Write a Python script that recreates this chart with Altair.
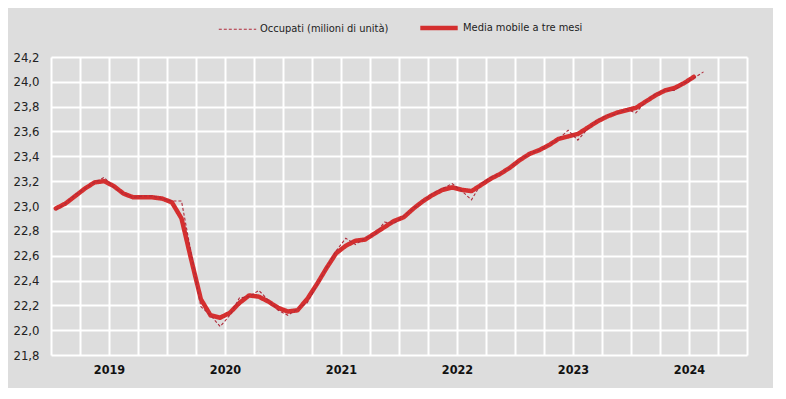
import altair as alt
import pandas as pd

# Monthly periods (Jan 2019 – Aug 2024)
start_year = 2019
years = [2019, 2020, 2021, 2022, 2023, 2024]
y_ticks = [21.8, 22.0, 22.2, 22.4, 22.6, 22.8, 23.0, 23.2, 23.4, 23.6, 23.8, 24.0, 24.2]

serie_raw = "Occupati (milioni di unità)"
serie_ma = "Media mobile a tre mesi"

occupati = [
    22.97, 23.02, 23.09, 23.14, 23.19, 23.23, 23.15, 23.10, 23.07, 23.08, 23.08, 23.06,
    23.04, 23.04, 22.62, 22.19, 22.12, 22.03, 22.12, 22.26, 22.27, 22.32, 22.24, 22.16,
    22.12, 22.17, 22.22, 22.36, 22.50, 22.64, 22.74, 22.69, 22.74, 22.77, 22.87, 22.86,
    22.92, 22.98, 23.04, 23.10, 23.14, 23.18, 23.12, 23.05, 23.18, 23.23, 23.26, 23.31,
    23.37, 23.42, 23.45, 23.49, 23.54, 23.61, 23.53, 23.62, 23.69, 23.73, 23.74, 23.78,
    23.75, 23.84, 23.90, 23.93, 23.93, 23.99, 24.03, 24.08,
]

media_mobile = [
    22.98, 23.02, 23.08, 23.14, 23.19, 23.20, 23.16, 23.10, 23.07, 23.07, 23.07, 23.06,
    23.03, 22.90, 22.57, 22.25, 22.12, 22.10, 22.14, 22.22, 22.28, 22.27, 22.23, 22.18,
    22.15, 22.16, 22.25, 22.37, 22.50, 22.62, 22.68, 22.72, 22.73, 22.78, 22.83, 22.88,
    22.91, 22.98, 23.04, 23.09, 23.13, 23.15, 23.13, 23.12, 23.17, 23.22, 23.26, 23.31,
    23.37, 23.42, 23.45, 23.49, 23.54, 23.56, 23.58, 23.63, 23.68, 23.72, 23.75, 23.77,
    23.79, 23.84, 23.89, 23.93, 23.95, 23.99, 24.04,
]

rows = []
for i, v in enumerate(occupati):
    rows.append({"pos": i + 0.5, "valore": v, "serie": serie_raw})
for i, v in enumerate(media_mobile):
    rows.append({"pos": i + 0.5, "valore": v, "serie": serie_ma})
df = pd.DataFrame(rows)

n_months = len(years) * 12
x_ticks = list(range(0, n_months + 1, 3))

FONT = "DejaVu Sans Condensed, Liberation Sans Narrow, sans-serif"

domain = [serie_raw, serie_ma]
color = alt.Color(
    "serie:N",
    scale=alt.Scale(domain=domain, range=["#b02a3a", "#d42f2f"]),
    legend=alt.Legend(
        title=None,
        orient="none",
        direction="horizontal",
        legendX=167,
        legendY=-50,
        symbolType="stroke",
        symbolSize=1400,
        labelFont=FONT,
        labelFontSize=11,
        labelColor="#222222",
        columnPadding=22,
        labelOffset=3,
    ),
)
dash = alt.StrokeDash(
    "serie:N",
    scale=alt.Scale(domain=domain, range=[[3, 2], [1, 0]]),
    legend=None,
)
width_enc = alt.StrokeWidth(
    "serie:N",
    scale=alt.Scale(domain=domain, range=[1.1, 4.5]),
    legend=None,
)

x = alt.X(
    "pos:Q",
    scale=alt.Scale(domain=[0, n_months], nice=False, zero=False),
    axis=alt.Axis(
        values=x_ticks,
        title=None,
        grid=True,
        gridColor="white",
        gridWidth=2,
        domain=False,
        ticks=False,
        labelExpr=f"(datum.value - 6) % 12 == 0 ? '' + ({start_year} + (datum.value - 6) / 12) : ''",
        labelFont=FONT,
        labelFontSize=12.5,
        labelFontWeight="bold",
        labelColor="#111111",
        labelPadding=8,
        labelOverlap=False,
    ),
)
y = alt.Y(
    "valore:Q",
    scale=alt.Scale(domain=[y_ticks[0], y_ticks[-1]], nice=False, zero=False),
    axis=alt.Axis(
        values=y_ticks,
        title=None,
        grid=True,
        gridColor="white",
        gridWidth=2,
        domain=False,
        ticks=False,
        labelExpr="replace(format(datum.value, '.1f'), '.', ',')",
        labelFont=FONT,
        labelFontSize=13,
        labelColor="#222222",
        labelPadding=12,
    ),
)

base = alt.Chart(df)
ma_line = base.transform_filter(alt.datum.serie == serie_ma).mark_line(
    strokeCap="round", strokeJoin="round"
).encode(x=x, y=y, color=color, strokeDash=dash, strokeWidth=width_enc)
raw_line = base.transform_filter(alt.datum.serie == serie_raw).mark_line().encode(
    x=x, y=y, color=color, strokeDash=dash, strokeWidth=width_enc
)

chart = (
    alt.layer(ma_line, raw_line)
    .properties(
        width=696,
        height=298,
        background="#dddddd",
        padding={"left": 43, "top": 49, "right": 26, "bottom": 33},
        autosize=alt.AutoSizeParams(type="none"),
    )
    .configure_view(stroke=None, fill="#dddddd")
)

chart.save("out.html", embed_options={"renderer": "svg", "actions": False})
